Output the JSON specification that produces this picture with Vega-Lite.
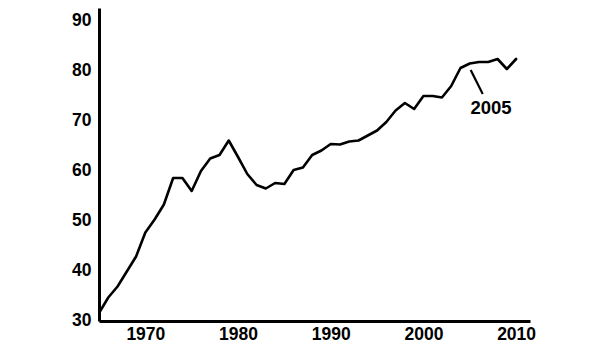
{
  "$schema": "https://vega.github.io/schema/vega-lite/v6.json",
  "width": 431,
  "height": 313,
  "autosize": {"type": "none"},
  "padding": {"left": 99, "top": 8, "right": 70, "bottom": 27},
  "background": "white",
  "config": {
    "view": {"stroke": null},
    "font": "Liberation Sans",
    "axis": {
      "grid": false,
      "ticks": false,
      "domainColor": "black",
      "domainWidth": 3,
      "labelColor": "black",
      "labelFont": "Liberation Sans",
      "labelFontSize": 17.5,
      "labelFontWeight": "bold",
      "title": null
    }
  },
  "datasets": {
    "series": [
      {"year": 1965, "value": 31.4}, {"year": 1966, "value": 34.5}, {"year": 1967, "value": 36.7},
      {"year": 1968, "value": 39.7}, {"year": 1969, "value": 42.7}, {"year": 1970, "value": 47.5},
      {"year": 1971, "value": 50.1}, {"year": 1972, "value": 53.1}, {"year": 1973, "value": 58.4},
      {"year": 1974, "value": 58.4}, {"year": 1975, "value": 55.8}, {"year": 1976, "value": 59.8},
      {"year": 1977, "value": 62.3}, {"year": 1978, "value": 63.0}, {"year": 1979, "value": 65.9},
      {"year": 1980, "value": 62.6}, {"year": 1981, "value": 59.2}, {"year": 1982, "value": 57.0},
      {"year": 1983, "value": 56.3}, {"year": 1984, "value": 57.4}, {"year": 1985, "value": 57.2},
      {"year": 1986, "value": 60.0}, {"year": 1987, "value": 60.5}, {"year": 1988, "value": 63.0},
      {"year": 1989, "value": 63.9}, {"year": 1990, "value": 65.2}, {"year": 1991, "value": 65.1},
      {"year": 1992, "value": 65.7}, {"year": 1993, "value": 65.9}, {"year": 1994, "value": 66.9},
      {"year": 1995, "value": 67.9}, {"year": 1996, "value": 69.6}, {"year": 1997, "value": 71.9},
      {"year": 1998, "value": 73.4}, {"year": 1999, "value": 72.2}, {"year": 2000, "value": 74.8},
      {"year": 2001, "value": 74.8}, {"year": 2002, "value": 74.5}, {"year": 2003, "value": 76.8},
      {"year": 2004, "value": 80.4}, {"year": 2005, "value": 81.3}, {"year": 2006, "value": 81.6},
      {"year": 2007, "value": 81.6}, {"year": 2008, "value": 82.2}, {"year": 2009, "value": 80.2},
      {"year": 2010, "value": 82.2}
    ],
    "pointer": [{"year": 2005.1, "value": 80.0, "year2": 2006.4, "value2": 75.2}],
    "label": [{"year": 2007.3, "value": 72.5, "text": "2005"}]
  },
  "layer": [
    {
      "data": {"name": "series"},
      "mark": {"type": "line", "color": "black", "strokeWidth": 2.6, "strokeJoin": "round", "strokeCap": "round", "clip": true},
      "encoding": {
        "x": {
          "field": "year", "type": "quantitative",
          "scale": {"domain": [1965, 2011.5], "nice": false, "zero": false},
          "axis": {"values": [1970, 1980, 1990, 2000, 2010], "format": "d", "labelPadding": 4, "labelFlush": false}
        },
        "y": {
          "field": "value", "type": "quantitative",
          "scale": {"domain": [29.8, 92.4], "nice": false, "zero": false},
          "axis": {"values": [30, 40, 50, 60, 70, 80, 90], "labelPadding": 8, "labelFlush": false}
        }
      }
    },
    {
      "data": {"name": "pointer"},
      "mark": {"type": "rule", "color": "black", "strokeWidth": 2.2},
      "encoding": {
        "x": {"field": "year", "type": "quantitative"},
        "y": {"field": "value", "type": "quantitative"},
        "x2": {"field": "year2"},
        "y2": {"field": "value2"}
      }
    },
    {
      "data": {"name": "label"},
      "mark": {"type": "text", "font": "Liberation Sans", "fontSize": 18.5, "fontWeight": "bold", "align": "center", "baseline": "middle", "color": "black"},
      "encoding": {
        "x": {"field": "year", "type": "quantitative"},
        "y": {"field": "value", "type": "quantitative"},
        "text": {"field": "text"}
      }
    }
  ]
}
